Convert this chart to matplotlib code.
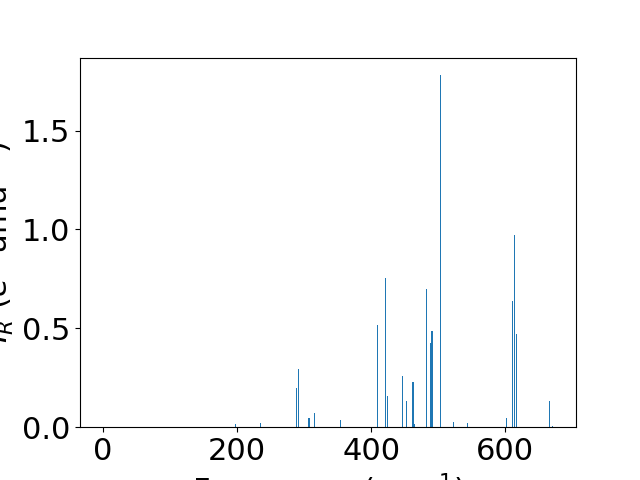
import numpy as np
import matplotlib
matplotlib.use("Agg")
import matplotlib.pyplot as plt

# vibrational modes: frequency (cm^-1) and IR intensity
freqs = [0.0, 197.8, 235.3, 288.3, 292.2, 306.3, 307.8, 314.7, 353.7,
         409.7, 421.7, 424.4, 446.9, 452.6, 461.8, 462.6, 464.1,
         482.5, 488.5, 490.3, 491.0, 503.5, 523.0, 544.0,
         601.0, 611.4, 613.2, 615.9, 665.4, 671.0]
intens = [0.0, 0.015, 0.019, 0.20, 0.296, 0.044, 0.044, 0.074, 0.034,
          0.515, 0.755, 0.16, 0.261, 0.13, 0.231, 0.231, 0.014,
          0.70, 0.428, 0.488, 0.488, 1.78, 0.024, 0.019,
          0.049, 0.64, 0.97, 0.473, 0.13, 0.008]

plt.rcParams['font.size'] = 22
fig = plt.figure(figsize=(6.4, 4.8), dpi=100)
plt.bar(freqs, intens, width=1.5)
plt.xlabel('Frequency (cm$^{-1}$)')
plt.ylabel('$I_R$ ($e^2$ amu$^{-1}$)')
plt.savefig('out.png')
